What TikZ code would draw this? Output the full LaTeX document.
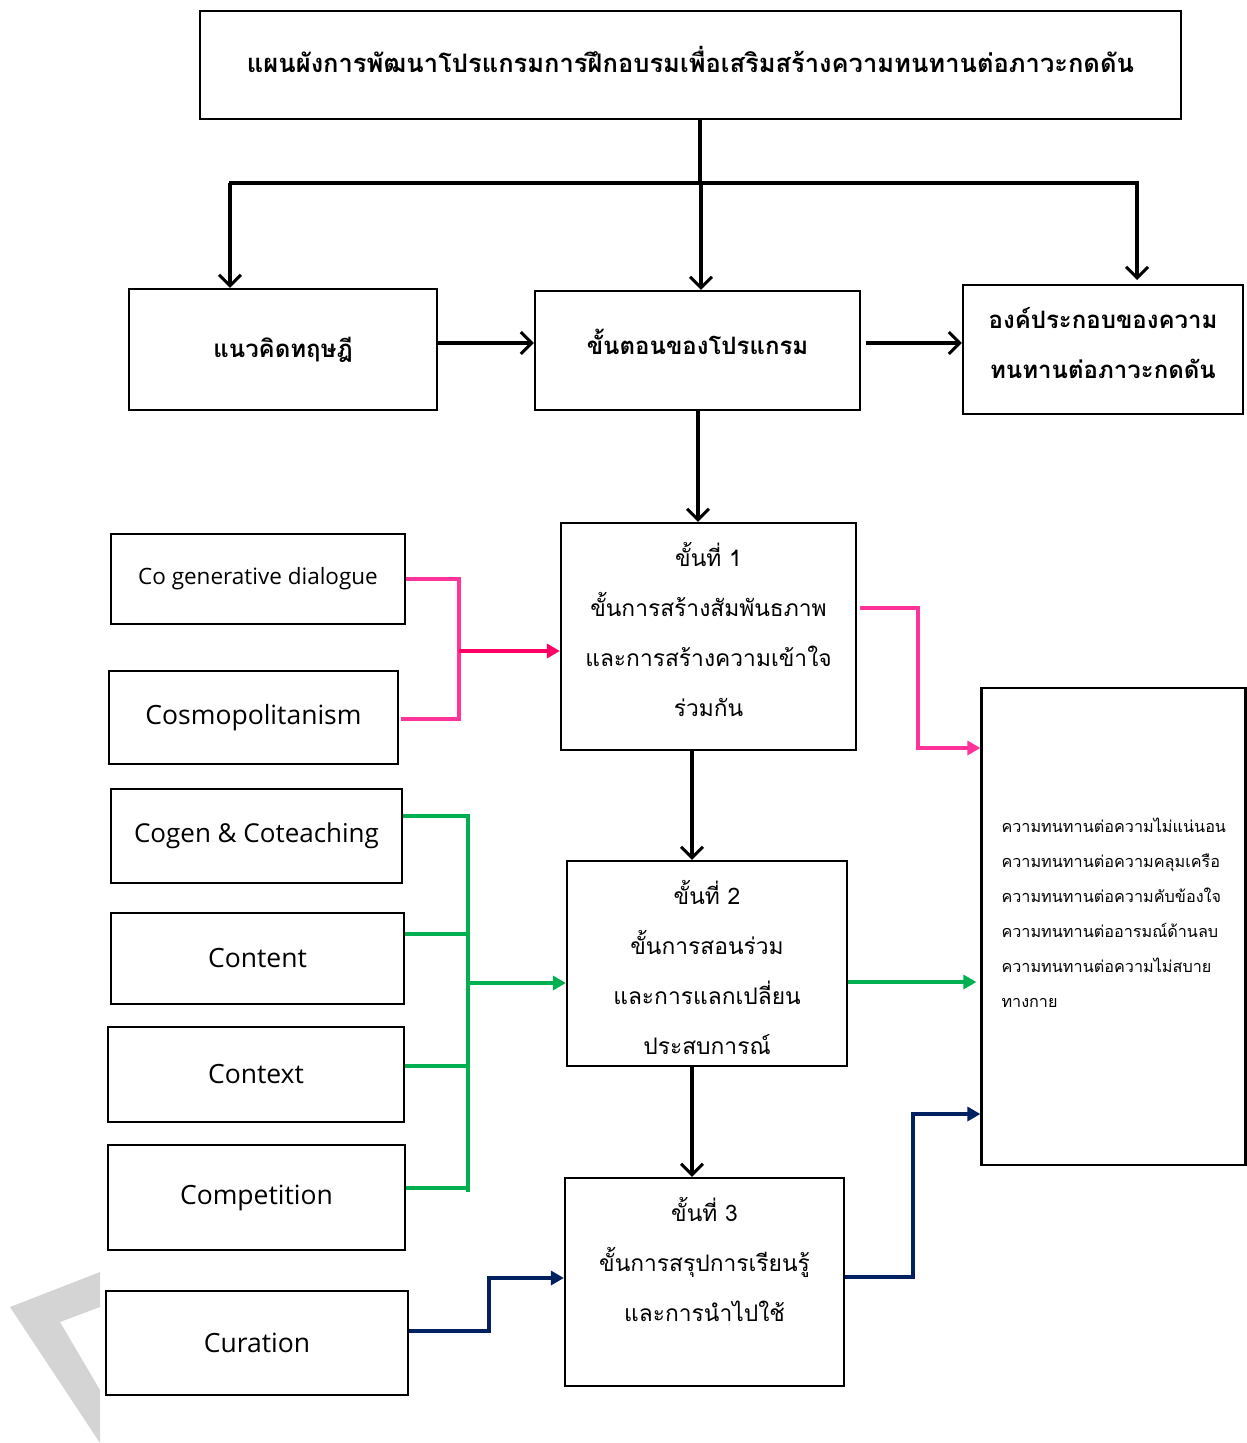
\documentclass[tikz,border=0pt]{standalone}
\usepackage{fontspec}
\setmainfont[Script=Thai]{Loma}
\newfontfamily\latinfont{Open Sans}
\usetikzlibrary{arrows.meta}
\definecolor{pinkL}{HTML}{FF3399}
\definecolor{pinkD}{HTML}{FF0066}
\definecolor{greenC}{HTML}{00B050}
\definecolor{navyC}{HTML}{002060}
\definecolor{wmgray}{HTML}{D4D4D4}
\newcommand{\liftc}[2]{\raisebox{#1}[\height][\depth]{\begin{tabular}{@{}c@{}}#2\end{tabular}}}
\newcommand{\liftl}[2]{\raisebox{#1}[\height][\depth]{\begin{tabular}{@{}l@{}}#2\end{tabular}}}
\newcommand{\liftone}[2]{\raisebox{#1}[\height][\depth]{#2}}
\tikzset{
  box/.style={draw=black, line width=2.2pt, rectangle, inner sep=0pt, align=center, fill=white},
  blk/.style={draw=black, line width=3.5pt, -{Straight Barb[length=11pt,width=22pt,line width=3pt]}},
  blkline/.style={draw=black, line width=3.5pt},
  pinkline/.style={draw=pinkL, line width=3.5pt},
  greenline/.style={draw=greenC, line width=3.5pt},
  navyline/.style={draw=navyC, line width=3.5pt},
  tri/.style={-{Triangle[length=13pt,width=14pt]}},
  thaiL/.style={font=\fontsize{22.8}{50}\selectfont},
  latin/.style={font=\latinfont\fontsize{26.5}{30}\selectfont},
}
\begin{document}
\begin{tikzpicture}[x=1pt,y=-1pt]
\useasboundingbox (0,0) rectangle (1247,1443);
% watermark
\fill[wmgray] (10,1307) -- (100,1272) -- (100,1307) -- (60,1322) -- (100,1390) -- (100,1443) -- cycle;

% boxes
\node[box, minimum width=981pt, minimum height=108pt, font=\bfseries\fontsize{25.5}{30}\selectfont] (title) at (690.5,65) {\liftone{6pt}{แผนผังการพัฒนาโปรแกรมการฝึกอบรมเพื่อเสริมสร้างความทนทานต่อภาวะกดดัน}};
\node[box, minimum width=308pt, minimum height=121pt, font=\bfseries\fontsize{24}{30}\selectfont] (theory) at (283,349.5) {แนวคิดทฤษฎี};
\node[box, minimum width=325pt, minimum height=119pt, font=\bfseries\fontsize{24}{30}\selectfont] (steps) at (697.5,350.5) {\liftone{9pt}{ขั้นตอนของโปรแกรม}};
\node[box, minimum width=280pt, minimum height=129pt, font=\bfseries\fontsize{24}{50}\selectfont] (comp) at (1103,349.5) {\liftc{6pt}{องค์ประกอบของความ\\ทนทานต่อภาวะกดดัน}};

\node[box, minimum width=295pt, minimum height=227pt, thaiL] (s1) at (708.5,636.5) {\liftc{5pt}{ขั้นที่ 1\\ขั้นการสร้างสัมพันธภาพ\\และการสร้างความเข้าใจ\\ร่วมกัน}};
\node[box, minimum width=280pt, minimum height=205pt, thaiL] (s2) at (707,963.5) {\liftc{-6pt}{ขั้นที่ 2\\ขั้นการสอนร่วม\\และการแลกเปลี่ยน\\ประสบการณ์}};
\node[box, minimum width=279pt, minimum height=208pt, thaiL] (s3) at (704.5,1282) {\liftc{21pt}{ขั้นที่ 3\\ขั้นการสรุปการเรียนรู้\\และการนำไปใช้}};

\node[box, minimum width=264pt, minimum height=477pt, text width=224pt, inner xsep=20pt, align=left, font=\fontsize{16.2}{35}\selectfont] (res) at (1113.5,926.5) {\liftl{14pt}{ความทนทานต่อความไม่แน่นอน\\ความทนทานต่อความคลุมเครือ\\ความทนทานต่อความคับข้องใจ\\ความทนทานต่ออารมณ์ด้านลบ\\ความทนทานต่อความไม่สบาย\\ทางกาย}};

\node[box, minimum width=294pt, minimum height=90pt, font=\latinfont\fontsize{22.5}{26}\selectfont] (cogen) at (258,579) {Co generative dialogue};
\node[box, minimum width=289pt, minimum height=93pt, latin] (cosmo) at (253.5,717.5) {Cosmopolitanism};
\node[box, minimum width=291pt, minimum height=94pt, font=\latinfont\fontsize{26}{30}\selectfont] (coteach) at (256.5,836) {Cogen \& Coteaching};
\node[box, minimum width=293pt, minimum height=91pt, latin] (content) at (257.5,958.5) {Content};
\node[box, minimum width=296pt, minimum height=95pt, latin] (context) at (256,1074.5) {Context};
\node[box, minimum width=297pt, minimum height=105pt, latin] (compet) at (256.5,1197.5) {Competition};
\node[box, minimum width=302pt, minimum height=104pt, latin] (curat) at (257,1343) {Curation};

% top tree
\coordinate (hl) at (229,183);
\coordinate (hr) at (1139,183);
\coordinate (hm) at (700,183);
\draw[blkline] (title.south -| hm) -- (hm);
\draw[blkline] (hl) -- (hr);
\draw[blk] (230,183) -- (theory.north -| 230,0);
\draw[blk] (701,183) -- (steps.north -| 701,0);
\draw[blk] (1137,183) -- (1137,280);
\draw[blk] (theory.east |- 0,343) -- (steps.west |- 0,343);
\draw[blk] ([xshift=5pt]steps.east |- 0,343) -- (comp.west |- 0,343);
\draw[blk] (steps.south -| 698,0) -- (s1.north -| 698,0);
\draw[blk] (s1.south -| 692,0) -- (s2.north -| 692,0);
\draw[blk] (s2.south -| 692,0) -- (s3.north -| 692,0);

% pink
\draw[pinkline] (cogen.east |- 0,579) -- (459,579) -- (459,719) -- ([xshift=2pt]cosmo.east |- 0,719);
\draw[draw=pinkD, line width=3.5pt, tri] (459,651) -- (s1.west |- 0,651);
\draw[pinkline, tri] ([xshift=3pt]s1.east |- 0,608) -- (918,608) -- (918,748) -- (res.west |- 0,748);

% green
\draw[greenline] (coteach.east |- 0,816) -- (468,816) -- (468,1192);
\draw[greenline] (content.east |- 0,934) -- (468,934);
\draw[greenline] (context.east |- 0,1066) -- (468,1066);
\draw[greenline] (compet.east |- 0,1188) -- (468,1188);
\draw[greenline, tri] (470,983) -- (s2.west |- 0,983);
\draw[greenline, tri] (s2.east |- 0,982) -- ([xshift=-4pt]res.west |- 0,982);

% navy
\draw[navyline, tri] (curat.east |- 0,1331) -- (489,1331) -- (489,1278) -- (s3.west |- 0,1278);
\draw[navyline, tri] (s3.east |- 0,1277) -- (913,1277) -- (913,1114) -- (res.west |- 0,1114);
\end{tikzpicture}
\end{document}
